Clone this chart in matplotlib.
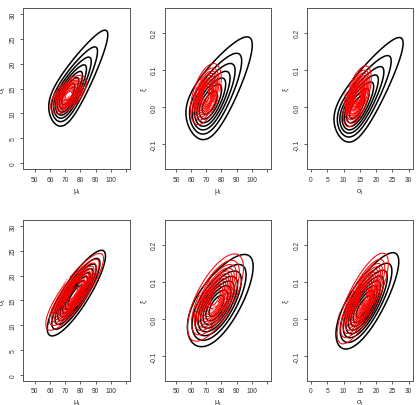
import numpy as np
import matplotlib
matplotlib.use("Agg")
import matplotlib.pyplot as plt

plt.rcParams['font.family'] = ['Liberation Sans', 'DejaVu Sans']

# ---- values ----
# outer contour: lower-left tip (x, y), upper-right tip (x, y),
# mode position along the tip-to-tip line (0..1), correlation (width)
# panels: 0 (mu,sigma) 1 (mu,xi) 2 (sigma,xi) top row; 3,4,5 bottom row
black_lo = [(61.5, 8.6), (60.0, -0.065), (8.5, -0.075),
            (59.0, 8.2), (60.0, -0.06), (8.5, -0.07)]
black_hi = [(97.5, 26.5), (99.5, 0.183), (28.0, 0.183),
            (95.8, 24.8), (99.5, 0.165), (26.5, 0.172)]
black_mode = [0.28, 0.30, 0.28, 0.47, 0.42, 0.42]
black_rho = [0.73, 0.62, 0.70, 0.85, 0.65, 0.75]
black_nlev = [7, 7, 7, 8, 8, 8]

red_lo = [(61.6, 10.3), (60.9, -0.036), (10.35, -0.044),
          (58.0, 9.3), (59.0, -0.05), (8.5, -0.06)]
red_hi = [(82.6, 17.2), (78.5, 0.106), (18.05, 0.102),
          (94.5, 24.2), (93.0, 0.165), (23.3, 0.17)]
red_mode = [0.5, 0.5, 0.5, 0.47, 0.5, 0.5]
red_rho = [0.60, 0.50, 0.60, 0.85, 0.68, 0.78]
red_nlev = [12, 12, 14, 14, 12, 14]

xlabels = ['μ₁', 'μ₁', 'σ₁', 'μ₁', 'μ₁', 'σ₁']
ylabels = ['σ₁', 'ξ', 'ξ', 'σ₁', 'ξ', 'ξ']
mu_ticks = [50, 60, 70, 80, 90, 100, 110]
mu_ticklabels = ['50', '60', '70', '80', '90', '100', '']
sig_ticks = [0, 5, 10, 15, 20, 25, 30]
xi_ticks = [-0.1, 0.0, 0.1, 0.2]
xi_ticklabels = ['-0.1', '0.0', '0.1', '0.2']
mu_lim = (45, 110)
sig_lim = (0, 30)
xi_lim = (-0.15, 0.25)


def ext(lim):
    d = (lim[1] - lim[0]) * 0.04
    return (lim[0] - d, lim[1] + d)


def draw_density(ax, lo, hi, t, rho, n, color, lw, labels):
    xl = ax.get_xlim()
    yl = ax.get_ylim()
    gx = np.linspace(xl[0], xl[1], 500)
    gy = np.linspace(yl[0], yl[1], 500)
    X, Y = np.meshgrid(gx, gy)
    lo = np.array(lo)
    hi = np.array(hi)
    c = lo + t * (hi - lo)
    r = np.sqrt(2 * np.log(n + 1))
    R = r * np.sqrt(1 + rho)
    if abs(t - 0.5) < 1e-9:
        g = 0.0
        a_lo = R
    else:
        g = np.log((1 - t) / t) / R
        a_lo = (1 - np.exp(-g * R)) / g
    s = np.sqrt(2) * (c - lo) / a_lo
    z1 = (X - c[0]) / s[0]
    z2 = (Y - c[1]) / s[1]
    a = (z1 + z2) / np.sqrt(2)
    b = (z1 - z2) / np.sqrt(2)
    if g == 0.0:
        ap = a
    else:
        arg = 1 + g * a
        ap = np.where(arg > 1e-9, np.log(np.maximum(arg, 1e-9)) / g, -1e3)
    Q = ap ** 2 / (1 + rho) + b ** 2 / (1 - rho)
    Z = np.exp(-0.5 * np.minimum(Q, 700))
    levels = np.arange(1, n + 1) / (n + 1)
    cs = ax.contour(X, Y, Z, levels=levels, colors=color, linewidths=lw)
    if labels:
        ax.clabel(cs, inline=True, fontsize=2.5, fmt='%.2f', inline_spacing=0.5)


fig = plt.figure(figsize=(4.16, 4.06), dpi=100)
W, H = 416.0, 406.0
lefts = [23.3, 164.7, 307.0]
rights = [130.0, 270.7, 412.6]
tops = [9.0, 221.0]
bottoms = [170.0, 381.7]

txtc = '#333333'
for i in range(6):
    row, col = divmod(i, 3)
    ax = fig.add_axes([lefts[col] / W, 1 - bottoms[row] / H,
                       (rights[col] - lefts[col]) / W, (bottoms[row] - tops[row]) / H])
    if xlabels[i] == 'μ₁':
        ax.set_xlim(ext(mu_lim))
        ax.set_xticks(mu_ticks)
        ax.set_xticklabels(mu_ticklabels)
    else:
        ax.set_xlim(ext(sig_lim))
        ax.set_xticks(sig_ticks)
        ax.set_xticklabels([str(t) for t in sig_ticks])
    if ylabels[i] == 'σ₁':
        ax.set_ylim(ext(sig_lim))
        ax.set_yticks(sig_ticks)
        ax.set_yticklabels([str(t) for t in sig_ticks], rotation=90, va='center')
    else:
        ax.set_ylim(ext(xi_lim))
        ax.set_yticks(xi_ticks)
        ax.set_yticklabels(xi_ticklabels, rotation=90, va='center')

    draw_density(ax, black_lo[i], black_hi[i], black_mode[i], black_rho[i],
                 black_nlev[i], 'black', 1.1, False)
    draw_density(ax, red_lo[i], red_hi[i], red_mode[i], red_rho[i],
                 red_nlev[i], 'red', 0.75, True)

    ax.tick_params(direction='out', length=2.2, width=0.6, colors='#444444',
                   labelsize=4.8, pad=2.5, labelcolor=txtc)
    for s in ax.spines.values():
        s.set_color('#555555')
        s.set_linewidth(0.7)
    ax.set_xlabel(xlabels[i], fontsize=5.2, color=txtc, labelpad=3)
    ax.set_ylabel(ylabels[i], fontsize=5.2, color=txtc, labelpad=3)

fig.savefig('out.png', dpi=100)
